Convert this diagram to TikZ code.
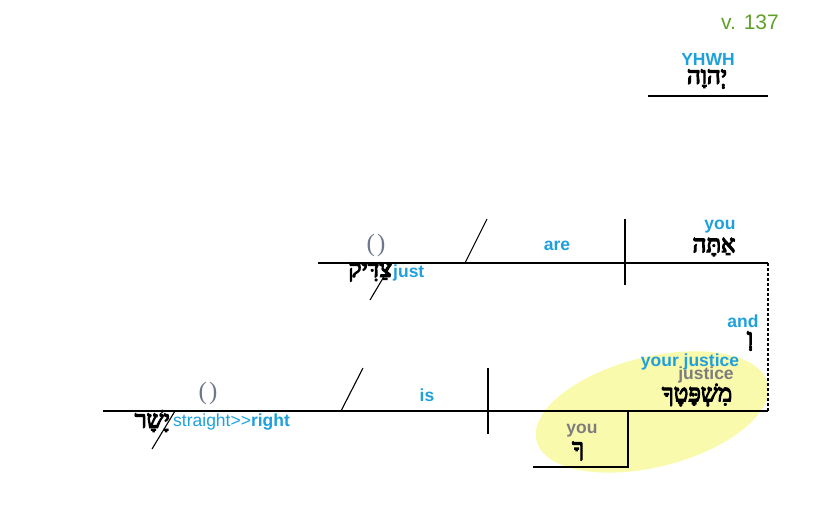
\documentclass[tikz,border=0pt]{standalone}
\usepackage{fontspec}
\setmainfont{Liberation Sans}
\newfontfamily\hebfont[Script=Hebrew,FakeBold=5]{Liberation Serif}
\newfontfamily\parenfont{Liberation Serif}
\TeXXeTstate=1
\definecolor{eng}{RGB}{30,160,220}
\definecolor{verse}{RGB}{95,160,40}
\definecolor{lightheb}{RGB}{140,200,232}
\definecolor{graytxt}{RGB}{125,125,125}
\definecolor{paren}{RGB}{110,120,140}
\definecolor{hilite}{RGB}{250,250,172}
\begin{document}
\begin{tikzpicture}[x=1pt,y=-1pt,
  diag/.style={draw=black,line width=1.1pt},
  en/.style={inner sep=0pt,text=eng,font=\fontsize{17.5}{17.5}\selectfont\bfseries},
  heb/.style={inner sep=0pt,text=black,font=\fontsize{24}{24}\selectfont\hebfont},
  par/.style={inner sep=0pt,text=paren,font=\fontsize{25}{25}\selectfont\parenfont}]
\useasboundingbox (0,0) rectangle (825,506);
% highlight
\fill[hilite, rotate around={14:(652,412)}] (652,412) ellipse [x radius=119, y radius=55];
% coordinates
\coordinate (yl) at (648,96); \coordinate (yr) at (768,96);
\coordinate (tl) at (318,263); \coordinate (tr) at (768,263);
\coordinate (tdt) at (625,219); \coordinate (tdb) at (625,285);
\coordinate (tsb) at (465,263); \coordinate (tst) at (487,219);
\coordinate (tmb) at (370,300); \coordinate (tmt) at (392,263);
\coordinate (bl) at (103,411); \coordinate (br) at (768,411);
\coordinate (bdt) at (488,368); \coordinate (bdb) at (488,434);
\coordinate (bsb) at (341,411); \coordinate (bst) at (363,368);
\coordinate (bmb) at (152,449); \coordinate (bmt) at (175,411);
\coordinate (pt) at (628,411); \coordinate (pc) at (628,467); \coordinate (pl) at (533,467);
% lines
\draw[diag] (yl) -- (yr);
\draw[diag] (tl) -- (tr);
\draw[diag] (tdt) -- (tdb);
\draw[diag] (tsb) -- (tst);
\draw[diag] (tmb) -- (tmt);
\draw[draw=black,line width=1.1pt,dash pattern=on 3pt off 2pt] (tr) -- (br);
\draw[diag] (bl) -- (br);
\draw[diag] (bdt) -- (bdb);
\draw[diag] (bsb) -- (bst);
\draw[diag] (bmb) -- (bmt);
\draw[diag] (pt) -- (pc) -- (pl);
% texts
\node[inner sep=0pt,text=verse,font=\fontsize{21}{21}\selectfont] (verse) at (750,22) {v. 137};
\node[en] (yhwhE) at (708,59) {YHWH};
\node[heb] (yhwhH) at (707,79) {\beginR יְהוָה\endR};
\node[en] (youE) at (720,227) {you};
\node[heb] (youH) at (714,247) {\beginR אַתָּה\endR};
\node[en] (areE) at (557,246) {are};
\node[par] (par1) at (376,245) {(\hspace{2pt})};
\node[heb,anchor=east] (justH) at (392,272) {\beginR צַדִּיק\endR};
\node[en,anchor=west] (justE) at (393,273) {just};
\node[en] (andE) at (743,321) {and};
\node[heb] (andH) at (750,341) {\beginR וְ\endR};
\node[en] (yjE) at (690,362) {your justice};
\node[en,text=graytxt] (jE) at (706,375) {justice};
\node[heb] (yjH) at (697,395) {\beginR{\color{lightheb}מִשְׁפָּטֶ}{\color{graytxt}ךָ}\endR};
\node[en] (isE) at (427,395) {is};
\node[par] (par2) at (208,393) {(\hspace{2pt})};
\node[heb,anchor=east] (rightH) at (170,421) {\beginR יָשָׁר\endR};
\node[en,anchor=west] (rightE) at (173,422) {\mdseries straight>\kern0pt>\bfseries right};
\node[en,text=graytxt] (you2E) at (582,431) {you};
\node[heb] (you2H) at (578,451) {\beginR ךָ\endR};
\end{tikzpicture}
\end{document}
